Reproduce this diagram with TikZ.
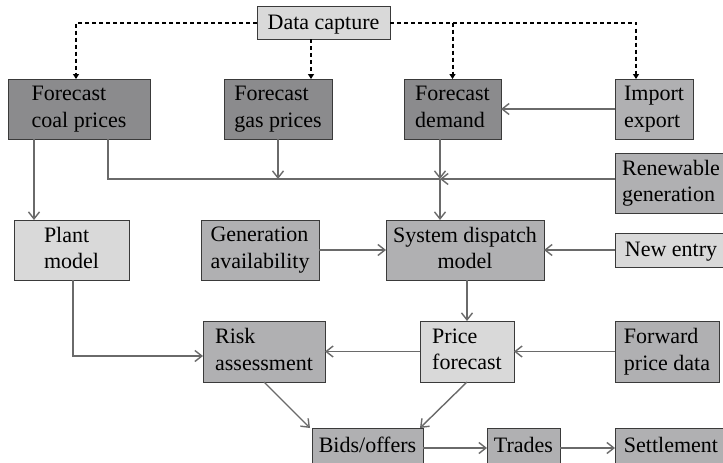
\documentclass[tikz,border=0pt]{standalone}
\usepackage{fontspec}
\setmainfont{Liberation Serif}
\usetikzlibrary{arrows.meta,calc}
\definecolor{boxdark}{HTML}{8B8B8D}
\definecolor{boxmid}{HTML}{B0B0B2}
\definecolor{boxlight}{HTML}{D9D9D9}
\definecolor{edgegrey}{HTML}{6A6A6A}
\definecolor{rimgrey}{HTML}{3A3A3A}
\newcommand{\boxstrut}{\rule[-4.5pt]{0pt}{22.5pt}}
\begin{document}
\begin{tikzpicture}[x=1pt,y=-1pt,
  box/.style={draw=rimgrey,line width=0.9pt,inner sep=0pt,outer sep=0pt,
    align=left,font=\fontsize{22}{26.5}\selectfont,
    execute at begin node={\boxstrut},execute at end node={\boxstrut}},
  dark/.style={box,fill=boxdark},
  mid/.style={box,fill=boxmid},
  light/.style={box,fill=boxlight},
  sz/.style 2 args={minimum width=#1,minimum height=#2},
  flow/.style={draw=edgegrey,line width=1.4pt,-{Straight Barb[length=7pt,width=11pt]}},
  plainflow/.style={draw=edgegrey,line width=1.4pt},
  feed/.style={draw=black,line width=2pt,dash pattern=on 4pt off 3pt,
    -{Triangle[length=5pt,width=6pt]}}]
\useasboundingbox (0,0) rectangle (723,463);
\clip (0,0) rectangle (723,463);
\fill[white] (0,0) rectangle (723,463);

% boxes
\node[light,sz={133}{33}] (cap) at (323.5,22.5) {Data capture};
\node[dark,sz={142}{60}] (coal) at (79,109) {Forecast\\coal prices};
\node[dark,sz={108}{60}] (gas) at (278,109) {Forecast\\gas prices};
\node[dark,sz={97}{60}] (demand) at (452.5,109) {Forecast\\demand};
\node[mid,sz={78}{60}] (impexp) at (654,109) {Import\\export};
\node[mid,sz={112}{60}] (renew) at (671,183) {Renewable\\generation};
\node[light,sz={115}{60}] (plant) at (71.5,250) {Plant\\model};
\node[mid,sz={118}{60}] (genav) at (260,250) {Generation\\availability};
\node[mid,sz={158}{60},align=center] (sysdisp) at (465,250) {System dispatch\\model};
\node[light,sz={112}{34}] (newentry) at (671,250) {New entry};
\node[mid,sz={122}{61}] (risk) at (264,351.5) {Risk\\assessment};
\node[light,sz={94}{61}] (price) at (467,351.5) {Price\\forecast};
\node[mid,sz={104}{61}] (forward) at (667,351.5) {Forward\\price data};
\node[mid,sz={111}{36}] (bids) at (367.5,446) {Bids/offers};
\node[mid,sz={73}{36}] (trades) at (523.5,446) {Trades};
\node[mid,sz={112}{36}] (settle) at (671,446) {Settlement};

% helper points on box edges
\coordinate (capS) at ([xshift=-12.5pt]cap.south);
\coordinate (coalT) at ([xshift=-3pt]coal.north);
\coordinate (impT) at ([xshift=-18pt]impexp.north);
\coordinate (coalL) at ([xshift=-45pt]coal.south);
\coordinate (coalR) at ([xshift=29pt]coal.south);
\coordinate (demS) at ([xshift=-12.5pt]demand.south);
\coordinate (j) at (440,179);
\coordinate (plantS) at ([xshift=1.5pt]plant.south);
\coordinate (riskW) at ([yshift=-4.5pt]risk.west);

% data feeds
\draw[feed] (cap.west) -| (coalT);
\draw[feed] (capS) -- (capS |- gas.north);
\draw[feed] (cap.east) -| (impT);
\draw[feed] (cap.east -| demand.north) -- (demand.north);

% forecasts into dispatch
\draw[flow] (coalL) -- (coalL |- plant.north);
\draw[plainflow] (coalR) |- (j);
\draw[flow] (gas.south) -- (gas.south |- j);
\draw[flow] (demS) -- (j);
\draw[flow] (renew.west |- j) -- (j);
\draw[flow] (j) -- (j |- sysdisp.north);
\draw[flow] (impexp.west) -- (impexp.west -| demand.east);
\draw[flow] (genav.east) -- (genav.east -| sysdisp.west);
\draw[flow] (newentry.west) -- (newentry.west -| sysdisp.east);

% pricing and risk
\draw[flow] (price.north |- sysdisp.south) -- (price.north);
\draw[flow] (forward.west) -- (forward.west -| price.east);
\draw[flow] (price.west) -- (price.west -| risk.east);
\draw[flow] (plantS) |- (riskW);
\draw[flow] (risk.south) -- ([xshift=-2pt]bids.north west);
\draw[flow] (price.south) -- ([xshift=-3pt]bids.north east);

% trading chain
\draw[flow] ([yshift=-2pt]bids.east) -- ([yshift=-2pt]trades.west);
\draw[flow] ([yshift=-2pt]trades.east) -- ([yshift=-2pt]settle.west);
\end{tikzpicture}
\end{document}
